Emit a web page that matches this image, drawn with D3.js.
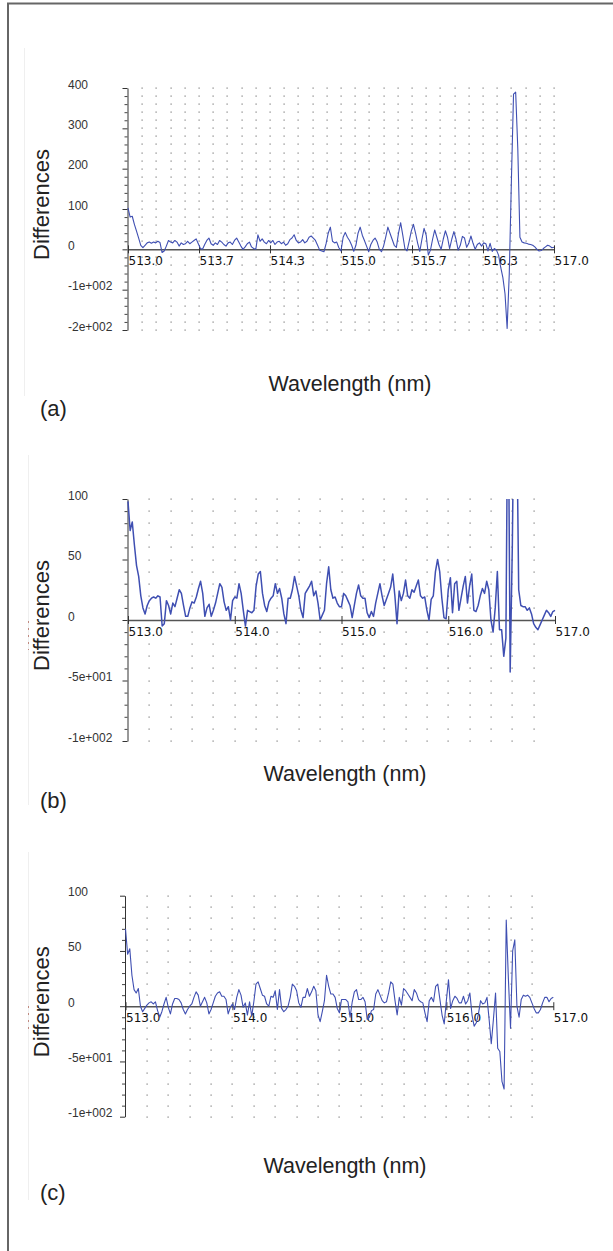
<!DOCTYPE html>
<html><head><meta charset="utf-8">
<script src="https://cdn.jsdelivr.net/npm/d3@7"></script>
<style>body{margin:0;background:#fff}svg{display:block}</style>
</head><body>
<svg id="chart" width="613" height="1251"></svg>
<script>
// ---- data ----
const wavelengthStart = 513.0;
const wavelengthStep = 0.02;

const diffA = [
103,80,82,62,45,28,10,4,10,16,
18,15,18,16,20,17,-8,-4,8,22,
18,16,22,18,8,16,12,14,20,14,
18,22,26,14,2,0,12,22,28,14,
10,16,12,22,18,12,8,16,18,12,
22,28,18,8,0,6,14,18,6,2,
0,36,20,26,18,14,22,16,22,12,
18,20,14,18,10,14,24,28,36,22,
16,18,24,16,20,30,33,28,22,10,
-2,-4,-6,14,40,55,20,16,18,4,
-4,30,42,30,22,10,-5,10,40,55,
35,22,8,-6,12,22,28,18,0,-6,
8,30,55,40,25,10,5,40,66,35,
2,-4,20,45,62,40,15,-5,25,52,
35,-14,-2,25,48,30,12,0,25,46,
30,2,25,44,25,-2,10,32,28,5,
15,33,15,0,12,16,8,16,14,-4,
15,-5,2,-2,-15,-45,-70,-110,-196,-60,
170,385,390,250,30,18,16,15,13,12,
10,6,0,-4,-3,2,6,10,8,4,
5];

const diffB = [
98,74,81,62,45,36,20,10,5,12,
16,18,19,18,20,19,-5,-3,16,12,
5,14,11,18,25,22,12,3,3,10,
15,14,19,26,32,22,3,10,13,3,
8,14,22,30,27,15,8,11,0,16,
19,18,30,22,8,-5,8,7,6,8,
28,38,40,22,12,7,15,18,20,30,
22,26,18,5,-3,18,18,25,36,28,
20,8,2,22,25,28,32,20,24,14,
0,4,8,30,44,25,18,19,14,11,
11,22,20,16,12,2,12,22,29,20,
18,18,6,2,7,3,14,22,30,20,
12,17,22,27,38,20,-3,24,16,22,
33,20,18,25,23,28,33,20,18,19,
8,0,17,20,40,50,40,18,2,1,
25,35,6,30,32,8,18,28,36,14,
28,38,8,7,12,20,26,22,32,25,
0,-10,10,40,-8,-8,-30,-15,220,-43,
60,220,180,25,12,11,11,8,10,5,
-3,-6,-8,-4,0,4,8,6,3,7,
8];

const diffC = [
70,47,52,28,15,12,16,0,-5,-2,
1,3,4,2,4,-4,-10,-5,2,8,
-1,-7,2,7,7,6,3,-3,-7,-3,
0,2,8,13,10,0,4,8,3,-7,
-3,3,9,12,13,9,9,6,-7,-1,
2,-3,8,15,10,-1,3,-8,4,-9,
4,20,22,16,10,9,2,0,9,8,
14,-3,15,-2,-5,-3,0,8,20,18,
14,3,-1,8,8,16,9,13,18,14,
-8,-14,-5,5,28,18,11,11,8,-2,
-6,6,6,6,4,-10,4,13,15,6,
6,8,4,-12,-10,-4,-3,11,15,10,
5,3,4,12,22,20,5,-8,8,1,
16,14,11,8,5,15,12,6,4,3,
-6,-14,5,8,4,18,20,6,-8,-16,
5,24,-2,5,9,7,3,3,9,2,
5,12,-8,-18,-15,-7,5,2,3,8,
-12,-34,-12,12,-38,-41,-68,-75,78,25,
-20,50,60,0,-10,6,10,9,10,8,
3,-2,-6,-6,-3,3,8,8,4,7,
8];

const xTicksA = [513.0, 513.6667, 514.3333, 515.0, 515.6667, 516.3333, 517.0];
const xTickLabelsA = ["513.0","513.7","514.3","515.0","515.7","516.3","517.0"];
const xTicksBC = [513, 514, 515, 516, 517];
const xTickLabelsBC = ["513.0","514.0","515.0","516.0","517.0"];
const yTicksA = [400, 300, 200, 100, 0, -100, -200];
const yTickLabelsA = ["400","300","200","100","0","-1e+002","-2e+002"];
const yTicksBC = [100, 50, 0, -50, -100];
const yTickLabelsBC = ["100","50","0","-5e+001","-1e+002"];
const xDomain = [513, 517];
const xTitle = "Wavelength (nm)";
const yTitle = "Differences";
const panelLetters = ["(a)", "(b)", "(c)"];

// ---- layout ----
const panels = [
  {values: diffA, yDomain: [-200, 400], x0: 128, x1: 554, yTop: 88, yBot: 330,
   xTicks: xTicksA, xLabels: xTickLabelsA, yTicks: yTicksA, yLabels: yTickLabelsA,
   gridCols: 30, lastCol: 30, gridStep: 20, lineW: 1.1,
   xTitleX: 350, xTitleY: 391, letterY: 416, faintX: 24.5, faintY: [48, 396]},
  {values: diffB, yDomain: [-100, 100], x0: 128, x1: 555, yTop: 499, yBot: 741,
   xTicks: xTicksBC, xLabels: xTickLabelsBC, yTicks: yTicksBC, yLabels: yTickLabelsBC,
   gridCols: 20, lastCol: 19, gridStep: 10, lineW: 1.5,
   xTitleX: 345, xTitleY: 781, letterY: 808, faintX: 28.5, faintY: [455, 805], red: [621, 650]},
  {values: diffC, yDomain: [-100, 100], x0: 125.5, x1: 553.3, yTop: 895.7, yBot: 1116.7,
   xTicks: xTicksBC, xLabels: xTickLabelsBC, yTicks: yTicksBC, yLabels: yTickLabelsBC,
   gridCols: 20, lastCol: 19, gridStep: 10, lineW: 1.1,
   xTitleX: 345, xTitleY: 1173, letterY: 1200, faintX: 28.5, faintY: [852, 1200], red: [1006, 1033]}
];

const svg = d3.select("#chart");
svg.append("rect").attr("width", 613).attr("height", 1251).attr("fill", "#fff");

// outer frame (top + left)
svg.append("path").attr("d", "M8,1251V3.5H613").attr("fill", "none")
  .attr("stroke", "#666").attr("stroke-width", 2);

panels.forEach((p, pi) => {
  const x = d3.scaleLinear().domain(xDomain).range([p.x0, p.x1]);
  const y = d3.scaleLinear().domain(p.yDomain).range([p.yBot, p.yTop]);
  const g = svg.append("g");

  // faint left guide
  g.append("line").attr("x1", p.faintX).attr("x2", p.faintX)
    .attr("y1", p.faintY[0]).attr("y2", p.faintY[1])
    .attr("stroke", "#efefef").attr("stroke-width", 1);
  if (p.red) {
    g.append("line").attr("x1", 28.5).attr("x2", 28.5)
      .attr("y1", p.red[0]).attr("y2", p.red[1])
      .attr("stroke", "#c08a80").attr("stroke-width", 1).attr("stroke-dasharray", "2,5");
  }

  // dotted grid
  const rows = d3.range(p.yDomain[0], p.yDomain[1] + 0.001, p.gridStep);
  const cols = d3.range(1, p.lastCol + 1).map(k => xDomain[0] + k * (xDomain[1] - xDomain[0]) / p.gridCols);
  const dots = [];
  cols.forEach(cx => rows.forEach(ry => { if (ry !== 0) dots.push([cx, ry]); }));
  g.append("g").selectAll("rect").data(dots).join("rect")
    .attr("x", d => Math.round(x(d[0])) - 0.5).attr("y", d => Math.round(y(d[1])) - 0.5)
    .attr("width", 1.2).attr("height", 1.2).attr("fill", "#7d7d7d");

  // y axis (major)
  const yAxis = g.append("g").attr("transform", `translate(${p.x0 - 0.5},0)`)
    .call(d3.axisLeft(y).tickValues(p.yTicks).tickSize(5).tickSizeOuter(0)
      .tickFormat((d, i) => p.yLabels[i]));
  yAxis.select(".domain").attr("stroke", "#333");
  yAxis.selectAll(".tick line").attr("stroke", "#333");
  yAxis.selectAll(".tick text")
    .attr("x", 68 - (p.x0 - 0.5)).attr("dy", 0).attr("text-anchor", "start")
    .attr("font-family", "'Liberation Sans', Arial, sans-serif").attr("font-size", 12)
    .attr("fill", "#333");
  // y axis minor ticks
  const minor = rows.filter(v => !p.yTicks.includes(v));
  const yMinor = g.append("g").attr("transform", `translate(${p.x0 - 0.5},0)`)
    .call(d3.axisLeft(y).tickValues(minor).tickSize(3).tickFormat(""));
  yMinor.select(".domain").remove();
  yMinor.selectAll(".tick line").attr("stroke", "#444");

  // x axis along zero
  const xAxis = g.append("g").attr("transform", `translate(0,${y(0)})`)
    .call(d3.axisBottom(x).tickValues(p.xTicks).tickSize(4).tickSizeOuter(0)
      .tickFormat((d, i) => p.xLabels[i]));
  xAxis.select(".domain").attr("stroke", "#555").attr("stroke-width", 1.5);
  xAxis.selectAll(".tick line").attr("y1", -4).attr("y2", 4).attr("stroke", "#333");
  xAxis.selectAll(".tick text")
    .attr("x", 0).attr("y", 16).attr("dy", 0).attr("text-anchor", "start")
    .attr("font-family", "'DejaVu Sans', Verdana, sans-serif").attr("font-size", 12)
    .attr("fill", "#111");

  // data line
  const clipId = "clip" + pi;
  svg.append("clipPath").attr("id", clipId).append("rect")
    .attr("x", p.x0 - 2).attr("y", p.yTop).attr("width", p.x1 - p.x0 + 4)
    .attr("height", p.yBot - p.yTop);
  const line = d3.line()
    .x((d, i) => x(wavelengthStart + i * wavelengthStep))
    .y(d => y(d));
  g.append("path").datum(p.values).attr("clip-path", `url(#${clipId})`)
    .attr("d", line).attr("fill", "none").attr("stroke", "#3f4fb2")
    .attr("stroke-width", p.lineW).attr("stroke-linejoin", "round");

  // titles
  const cy = (p.yTop + p.yBot) / 2 - 4.5;
  g.append("text").attr("transform", `translate(49,${cy}) rotate(-90)`)
    .attr("text-anchor", "middle")
    .attr("font-family", "'Liberation Sans', Arial, sans-serif").attr("font-size", 22)
    .attr("fill", "#222").text(yTitle);
  g.append("text").attr("x", p.xTitleX).attr("y", p.xTitleY)
    .attr("text-anchor", "middle")
    .attr("font-family", "'Liberation Sans', Arial, sans-serif").attr("font-size", 21.5)
    .attr("fill", "#222").text(xTitle);
  g.append("text").attr("x", 40).attr("y", p.letterY)
    .attr("font-family", "'Liberation Sans', Arial, sans-serif").attr("font-size", 22)
    .attr("fill", "#222").text(panelLetters[pi]);
});
</script>
</body></html>
